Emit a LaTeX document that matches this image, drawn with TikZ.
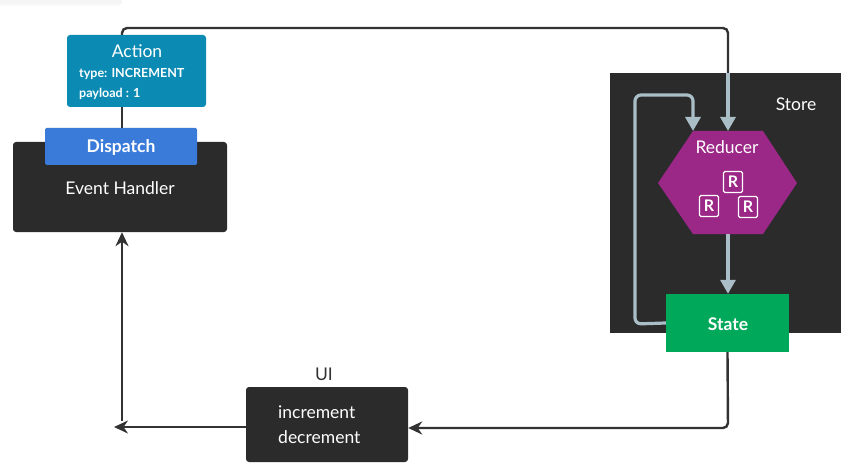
\documentclass[tikz,border=0pt]{standalone}
\usepackage{fontspec}
\setmainfont{Lato}
\usetikzlibrary{arrows.meta}
\definecolor{darkbox}{HTML}{2B2B2B}
\definecolor{actionc}{HTML}{0B8BB3}
\definecolor{dispc}{HTML}{3A7BD9}
\definecolor{purp}{HTML}{9B2787}
\definecolor{grn}{HTML}{00A85A}
\definecolor{garr}{HTML}{A9BEC6}
\definecolor{lnc}{HTML}{333333}
\tikzset{
  box/.style={draw=none, rounded corners=3pt, inner sep=0pt, text=white},
  conn/.style={draw=lnc, line width=2.4pt, rounded corners=5pt},
  gconn/.style={draw=garr, line width=3.2pt, rounded corners=6pt},
  darrow/.style={-{Stealth[length=14pt,width=13pt,inset=4.5pt]}},
  garrow/.style={-{Triangle[length=14pt,width=15pt]}},
  rbox/.style={draw=white, line width=1.2pt, rounded corners=1.5pt, minimum width=19pt, minimum height=21pt, inner sep=0pt, text=white, font=\fontsize{16}{16}\selectfont\bfseries},
  lbl/.style={text=white, inner sep=0pt},
  big/.style={font=\fontsize{17.5}{20}\selectfont},
  bigb/.style={font=\fontsize{17.5}{20}\selectfont\bfseries}
}
\begin{document}
\begin{tikzpicture}[x=1pt,y=-1pt]
\useasboundingbox (0,0) rectangle (868,476);
% faint shadow top-left
\fill[gray!8] (0,0) rectangle (122,4);
\fill[gray!4] (0,4) rectangle (120,6);
% coordinates
\coordinate (c1) at (122,28);
\coordinate (c2) at (728,28);
\coordinate (redtop) at (728,131);
\coordinate (redbot) at (728,234);
\coordinate (redtl) at (693,131);
% Event handler
\node[box, fill=darkbox, minimum width=214pt, minimum height=90pt] (eh) at (120,187) {};
\node[lbl, big] (ehl) at (120,188) {Event Handler};
% Dispatch
\node[box, rounded corners=1.5pt, fill=dispc, minimum width=152pt, minimum height=37pt] (disp) at (121,146.5) {};
\node[lbl, bigb] (displ) at (121,147) {Dispatch};
% Action
\node[box, fill=actionc, minimum width=139pt, minimum height=72pt] (act) at (136.5,71) {};
\node[lbl, big] (actl) at (137,51) {Action};
\node[lbl, font=\fontsize{12.5}{14}\selectfont\bfseries, anchor=west] (t1) at (79,74) {type: INCREMENT};
\node[lbl, font=\fontsize{12.5}{14}\selectfont\bfseries, anchor=west] (t2) at (79,94) {payload : 1};
% Action -> dispatch
\draw[conn] (act.south -| c1) -- (disp.north -| c1);
% top connector (dark part)
\draw[conn] (act.north -| c1) -- (c1) -- (c2) -- (728,80);
% Store
\node[draw=none, fill=darkbox, minimum width=231pt, minimum height=260pt, inner sep=0pt] (store) at (725,203) {};
\node[lbl, big] (storel) at (796,104) {Store};
% Reducer hexagon
\fill[purp] (658,183) -- (693,131) -- (763,131) -- (797,183) -- (763,234) -- (693,234) -- cycle;
\node[lbl, big] (redl) at (727,147) {Reducer};
\node[rbox] (r1) at (733,182) {R};
\node[rbox] (r2) at (709,206) {R};
\node[rbox] (r3) at (748,207) {R};
% State
\node[draw=none, fill=grn, minimum width=123pt, minimum height=58pt, inner sep=0pt] (state) at (727.5,323) {};
\node[lbl, bigb] (statel) at (728,324) {State};
% gray arrows
\draw[gconn, garrow] (store.north -| redtop) -- (redtop);
\draw[gconn, garrow] (redbot) -- (state.north -| redbot);
\draw[gconn, garrow] (state.west) -- (635,324) -- (635,95) -- (693,95) -- (redtl);
% UI
\node[box, fill=darkbox, minimum width=162pt, minimum height=75pt] (ui) at (327,424.5) {};
\node[lbl, big, align=left, anchor=west] (uil) at (278,425) {increment\\[5pt]decrement};
\node[big, text=lnc] (uit) at (324,374) {UI};
% State -> UI
\draw[conn, darrow] (state.south) -- (728,428) -- (ui.east |- 0,428);
% UI -> left
\draw[conn, darrow] (ui.west |- 0,427) -- (114,427);
\draw[conn, darrow] (122,421) -- (eh.south -| 122,0);
\end{tikzpicture}
\end{document}
